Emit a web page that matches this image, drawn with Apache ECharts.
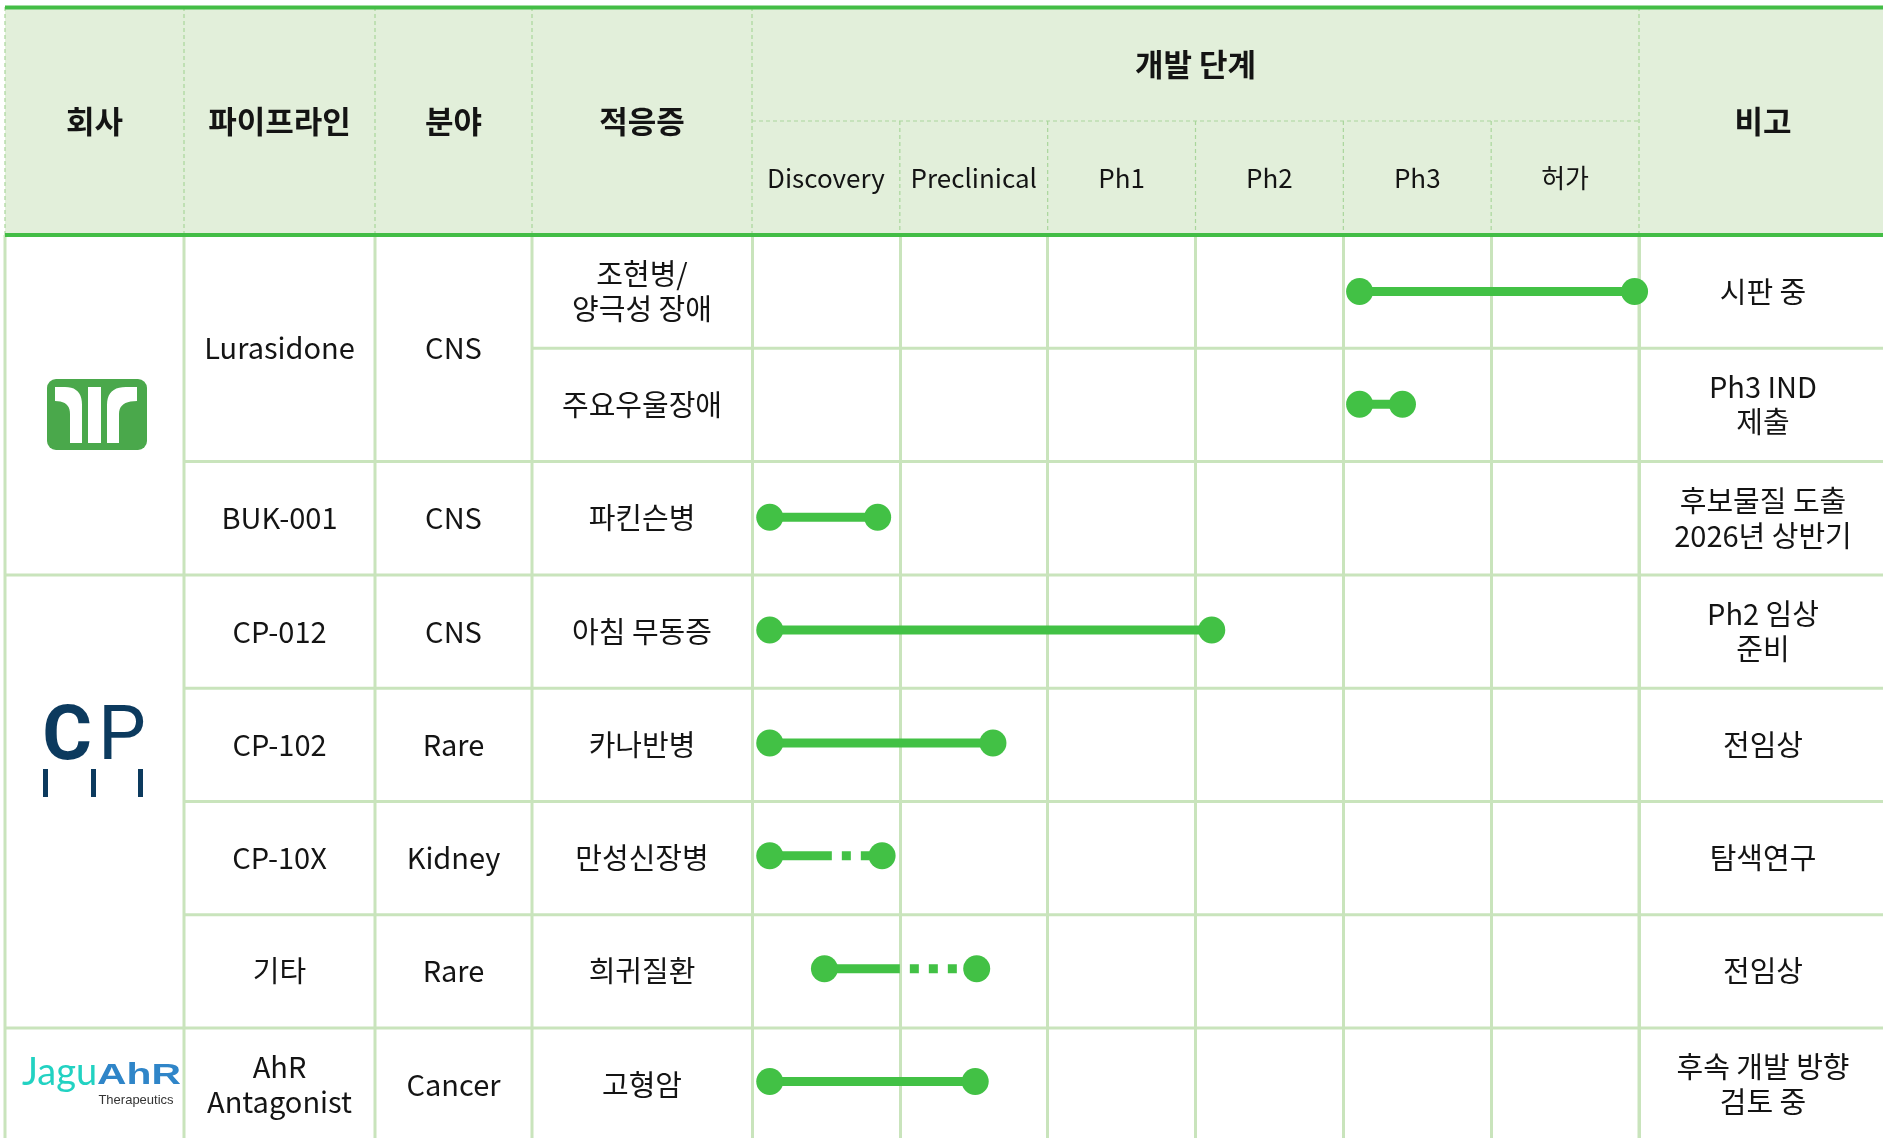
<!DOCTYPE html>
<html><head><meta charset="utf-8">
<script src="https://cdn.jsdelivr.net/npm/echarts/dist/echarts.min.js"></script>
<style>html,body{margin:0;padding:0;background:#fff}#c{width:1883px;height:1138px}</style>
</head><body><div id="c"></div>
<script>
// ---------- data ----------
const headers = ['회사', '파이프라인', '분야', '적응증'];
const stageHeader = '개발 단계';
const noteHeader = '비고';
const phases = ['Discovery', 'Preclinical', 'Ph1', 'Ph2', 'Ph3', '허가'];
const companySpans = [3, 4, 1];
const pipelines = ['Lurasidone', 'BUK-001', 'CP-012', 'CP-102', 'CP-10X', '기타', 'AhR\nAntagonist'];
const pipelineSpans = [2, 1, 1, 1, 1, 1, 1];
const fields = ['CNS', 'CNS', 'CNS', 'Rare', 'Kidney', 'Rare', 'Cancer'];
const fieldSpans = [2, 1, 1, 1, 1, 1, 1];
const indications = ['조현병/\n양극성 장애', '주요우울장애', '파킨슨병', '아침 무동증', '카나반병', '만성신장병', '희귀질환', '고형암'];
const notes = ['시판 중', 'Ph3 IND\n제출', '후보물질 도출\n2026년 상반기', 'Ph2 임상\n준비', '전임상', '탐색연구', '전임상', '후속 개발 방향\n검토 중'];
// bar positions in phase units (0 = start of Discovery, 6 = end of 허가)
const barStart    = [4.11, 4.11, 0.12, 0.12, 0.12, 0.12, 0.49, 0.12];
const barSolidEnd = [5.97, 4.40, 0.85, 3.11, 1.63, 0.54, 1.00, 1.51];
const barEnd      = [5.97, 4.40, 0.85, 3.11, 1.63, 0.88, 1.52, 1.51];

// ---------- layout ----------
const COLS = [5, 184, 375, 532, 752, 1639, 1887];
const TOP_LINE = 7, HEAD_MID = 121, HEAD_BOT = 235, ROW_H = 113.3, N = indications.length;
const GREEN = '#42c145', DARK_GREEN = '#43bd46', GRID = '#c9e4bc', HEAD_BG = '#e2efda', DASH = '#a9d69b';
const FONT = '"Noto Sans CJK KR", "Noto Sans", sans-serif';
const TXT = '#141414';
const rowY = i => HEAD_BOT + (i + 0.5) * ROW_H;
const spanY = (start, span) => HEAD_BOT + (start + span / 2) * ROW_H;
const colC = k => (COLS[k] + COLS[k + 1]) / 2;
const phaseW = (COLS[5] - COLS[4]) / 6;

const g = [];
// header background
g.push({type: 'rect', shape: {x: 5, y: TOP_LINE, width: 1878, height: HEAD_BOT - TOP_LINE}, style: {fill: HEAD_BG}, z: -5});
// header dashed dividers
[0, 1, 2, 3, 4, 5].forEach(k => {
  g.push({type: 'line', shape: {x1: COLS[k], y1: TOP_LINE, x2: COLS[k], y2: HEAD_BOT}, style: {stroke: DASH, lineWidth: 1.2, lineDash: [4, 3]}, z: -4});
});
for (let p = 1; p < 6; p++) {
  const x = COLS[4] + p * phaseW;
  g.push({type: 'line', shape: {x1: x, y1: HEAD_MID, x2: x, y2: HEAD_BOT}, style: {stroke: DASH, lineWidth: 1.2, lineDash: [4, 3]}, z: -4});
}
g.push({type: 'line', shape: {x1: COLS[4], y1: HEAD_MID, x2: COLS[5], y2: HEAD_MID}, style: {stroke: DASH, lineWidth: 1.2, lineDash: [4, 3]}, z: -4});
// header texts
const headFont = 'bold 31px ' + FONT;
headers.forEach((h, k) => g.push({type: 'text', style: {text: h, x: colC(k), y: (TOP_LINE + HEAD_BOT) / 2, textAlign: 'center', textVerticalAlign: 'middle', font: headFont, fill: TXT}}));
g.push({type: 'text', style: {text: stageHeader, x: (COLS[4] + COLS[5]) / 2, y: (TOP_LINE + HEAD_MID) / 2, textAlign: 'center', textVerticalAlign: 'middle', font: headFont, fill: TXT}});
g.push({type: 'text', style: {text: noteHeader, x: colC(5), y: (TOP_LINE + HEAD_BOT) / 2, textAlign: 'center', textVerticalAlign: 'middle', font: headFont, fill: TXT}});
phases.forEach((p, k) => g.push({type: 'text', style: {text: p, x: COLS[4] + (k + 0.5) * phaseW, y: (HEAD_MID + HEAD_BOT) / 2, textAlign: 'center', textVerticalAlign: 'middle', font: '26px ' + FONT, fill: TXT}}));

// body vertical lines (phase lines come from the x axis)
[0, 1, 2, 3].forEach(k => g.push({type: 'line', shape: {x1: COLS[k], y1: HEAD_BOT, x2: COLS[k], y2: 1140}, style: {stroke: GRID, lineWidth: 3}, z: -3}));
g.push({type: 'line', shape: {x1: COLS[5], y1: HEAD_BOT, x2: COLS[5], y2: 1140}, style: {stroke: GRID, lineWidth: 3}, z: -3});
// body horizontal lines
const bounds = spans => { const s = new Set(); let c = 0; spans.forEach(v => { c += v; s.add(c); }); return s; };
const cb = bounds(companySpans), pb = bounds(pipelineSpans);
for (let k = 1; k < N; k++) {
  const x1 = cb.has(k) ? COLS[0] : (pb.has(k) ? COLS[1] : COLS[3]);
  const y = HEAD_BOT + k * ROW_H;
  g.push({type: 'line', shape: {x1, y1: y, x2: 1883, y2: y}, style: {stroke: GRID, lineWidth: 3}, z: -3});
}
// top & header bottom lines
g.push({type: 'rect', shape: {x: 5, y: 5.5, width: 1878, height: 4}, style: {fill: DARK_GREEN}, z: 10});
g.push({type: 'rect', shape: {x: 5, y: HEAD_BOT - 2, width: 1878, height: 4}, style: {fill: DARK_GREEN}, z: 10});

// body texts
const bodyFont = '29px ' + FONT;
const LH = 35;
const addSpanTexts = (arr, spans, col) => { let s = 0; arr.forEach((t, i) => {
  g.push({type: 'text', style: {text: t, x: colC(col), y: spanY(s, spans[i]), textAlign: 'center', textVerticalAlign: 'middle', font: bodyFont, fill: TXT, lineHeight: LH}});
  s += spans[i]; }); };
addSpanTexts(pipelines, pipelineSpans, 1);
addSpanTexts(fields, fieldSpans, 2);
indications.forEach((t, i) => g.push({type: 'text', style: {text: t, x: colC(3), y: rowY(i), textAlign: 'center', textVerticalAlign: 'middle', font: bodyFont, fill: TXT, lineHeight: LH}}));
notes.forEach((t, i) => g.push({type: 'text', style: {text: t, x: colC(5), y: rowY(i), textAlign: 'center', textVerticalAlign: 'middle', font: bodyFont, fill: TXT, lineHeight: LH}}));

// logo 1 (drawn shapes)
const quad = (a, c, b, n = 10) => { const pts = []; for (let i = 1; i <= n; i++) { const t = i / n, u = 1 - t;
  pts.push([u * u * a[0] + 2 * u * t * c[0] + t * t * b[0], u * u * a[1] + 2 * u * t * c[1] + t * t * b[1]]); } return pts; };
const leftShape = [[55, 387], [65, 387], ...quad([65, 387], [82, 387], [82, 405]), [82, 443], [70, 443], [70, 414], ...quad([70, 414], [70, 401], [55, 401])];
const rightShape = [[137, 387], [126, 387], ...quad([126, 387], [107, 387], [107, 405]), [107, 443], [119, 443], [119, 414], ...quad([119, 414], [119, 401], [137, 401])];
g.push({type: 'rect', shape: {x: 47, y: 379, width: 100, height: 71, r: 9}, style: {fill: '#4aa84b'}});
g.push({type: 'polygon', shape: {points: leftShape}, style: {fill: '#fff'}});
g.push({type: 'rect', shape: {x: 88, y: 387, width: 13, height: 56}, style: {fill: '#fff'}});
g.push({type: 'polygon', shape: {points: rightShape}, style: {fill: '#fff'}});
// logo 2 (CP)
g.push({type: 'text', style: {text: 'C', x: 67, y: 740, textAlign: 'center', textVerticalAlign: 'middle', font: 'bold 76px Roboto', fill: '#0c3a5e'}});
g.push({type: 'text', style: {text: 'P', x: 122, y: 740, textAlign: 'center', textVerticalAlign: 'middle', font: '76px Roboto', fill: '#0c3a5e'}});
[43, 91, 138].forEach(x => g.push({type: 'rect', shape: {x, y: 769, width: 5, height: 28}, style: {fill: '#0c3a5e'}}));
// logo 3 (JaguAhR)
g.push({type: 'text', style: {text: 'Jagu', x: 22, y: 1073, textAlign: 'left', textVerticalAlign: 'middle', font: '38px Lato', fill: '#22d2c2'}});
g.push({type: 'text', x: 97, y: 1076, scaleX: 1.36, style: {text: 'AhR', x: 0, y: 0, textAlign: 'left', textVerticalAlign: 'middle', font: 'bold 30px "Liberation Sans"', fill: '#2f85c8'}});
g.push({type: 'text', style: {text: 'Therapeutics', x: 136, y: 1100, textAlign: 'center', textVerticalAlign: 'middle', font: '13px "Liberation Sans"', fill: '#333'}});

const barData = barStart.map((s, i) => [i, s, barSolidEnd[i], barEnd[i]]);

const chart = echarts.init(document.getElementById('c'), null, {renderer: 'canvas'});
chart.setOption({
  animation: false,
  grid: {left: COLS[4], top: HEAD_BOT, width: COLS[5] - COLS[4], height: N * ROW_H},
  xAxis: {type: 'value', min: 0, max: 6, interval: 1, axisLine: {show: false}, axisTick: {show: false}, axisLabel: {show: false},
    splitLine: {show: true, lineStyle: {color: GRID, width: 3}}},
  yAxis: {type: 'category', data: indications, inverse: true, axisLine: {show: false}, axisTick: {show: false}, axisLabel: {show: false}, splitLine: {show: false}},
  graphic: {elements: g},
  series: [{
    type: 'custom', data: barData, encode: {x: [1, 2, 3], y: 0}, clip: false, z: 5,
    renderItem(params, api) {
      const row = api.value(0), s = api.value(1), m = api.value(2), e = api.value(3);
      const p0 = api.coord([s, row]), p1 = api.coord([m, row]), p2 = api.coord([e, row]);
      const ch = [{type: 'line', shape: {x1: p0[0], y1: p0[1], x2: p1[0], y2: p1[1]}, style: {stroke: GREEN, lineWidth: 9}}];
      if (e > m) ch.push({type: 'line', shape: {x1: p1[0], y1: p1[1], x2: p2[0], y2: p2[1]}, style: {stroke: GREEN, lineWidth: 9, lineDash: [9, 10], lineDashOffset: 9}});
      ch.push({type: 'circle', shape: {cx: p0[0], cy: p0[1], r: 13.5}, style: {fill: GREEN}});
      ch.push({type: 'circle', shape: {cx: p2[0], cy: p2[1], r: 13.5}, style: {fill: GREEN}});
      return {type: 'group', children: ch};
    }
  }]
});
</script></body></html>
